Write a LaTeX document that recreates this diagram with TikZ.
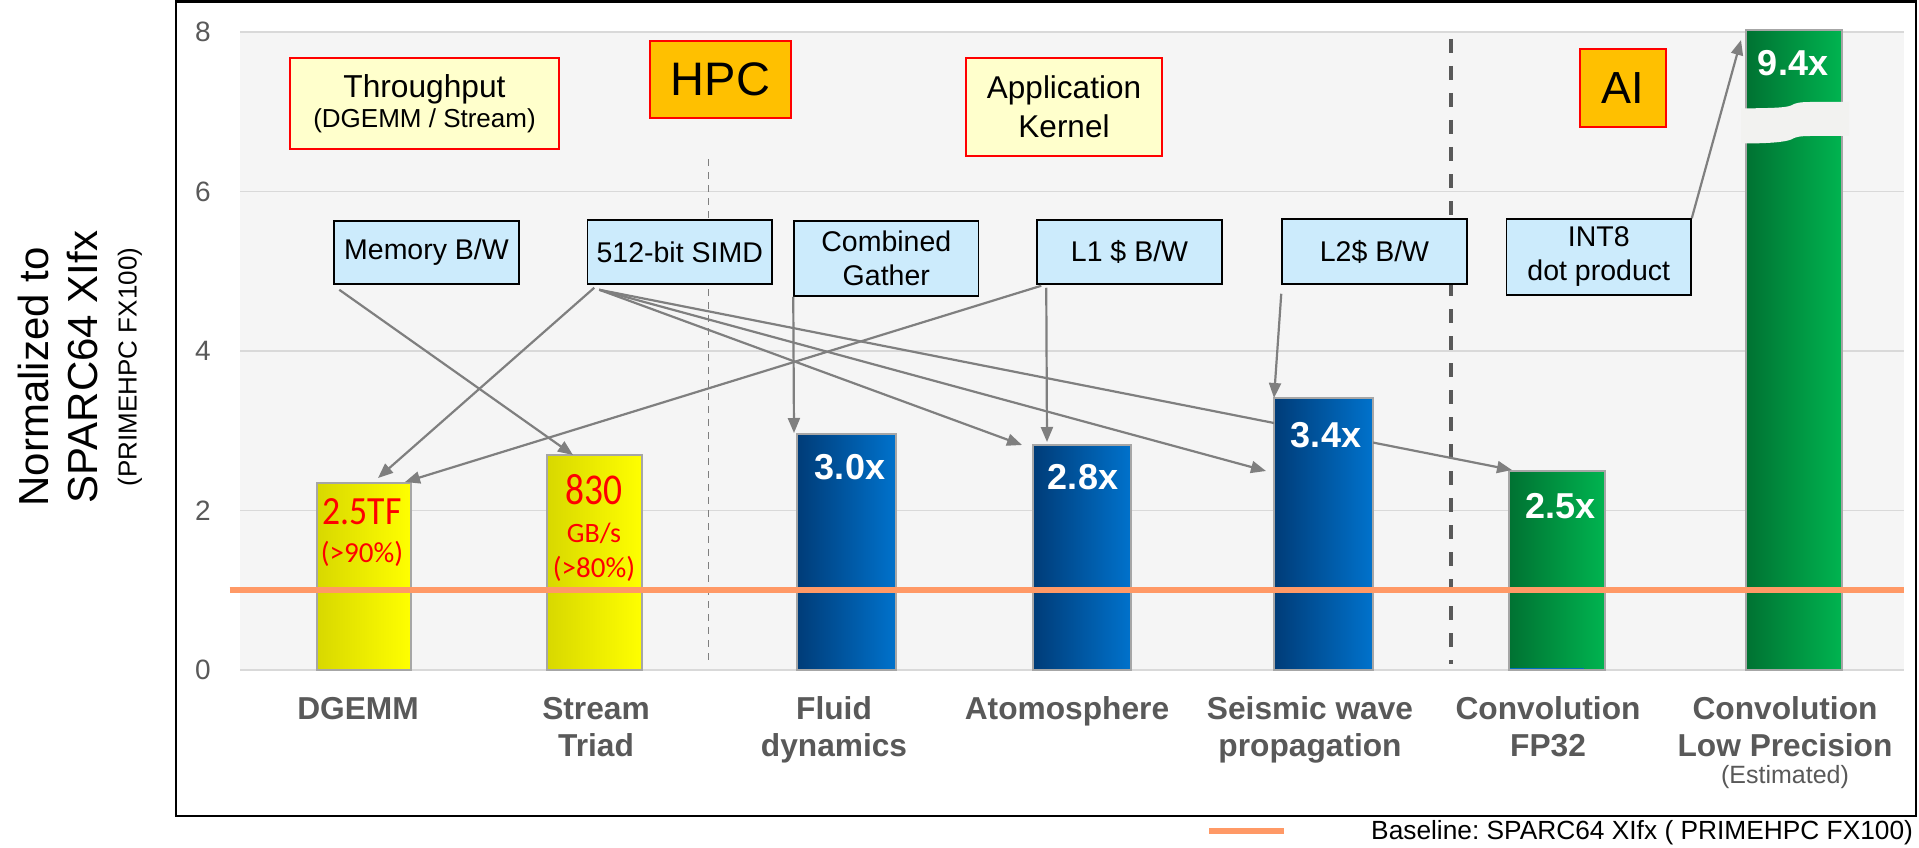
\documentclass[tikz,border=0pt]{standalone}
\usepackage{fontspec}
\setmainfont{Liberation Sans}
\newfontfamily\carl{Carlito}
\usepackage{graphicx}
\usetikzlibrary{arrows.meta}
\definecolor{gridc}{HTML}{D9D9D9}
\definecolor{plotbg}{HTML}{F5F5F5}
\definecolor{axisgray}{HTML}{595959}
\definecolor{basecol}{HTML}{FF9966}
\definecolor{arrowc}{HTML}{7F7F7F}
\definecolor{boxblue}{HTML}{CCEBFC}
\definecolor{boxyel}{HTML}{FFFFCC}
\definecolor{boxgold}{HTML}{FFC000}
\definecolor{barline}{HTML}{A6A6A6}
\definecolor{yA}{HTML}{D8D800}
\definecolor{yB}{HTML}{F0F000}
\definecolor{yC}{HTML}{FFFF00}
\definecolor{bA}{HTML}{003C78}
\definecolor{bB}{HTML}{00569F}
\definecolor{bC}{HTML}{0072CC}
\definecolor{gA}{HTML}{007232}
\definecolor{gB}{HTML}{00923F}
\definecolor{gC}{HTML}{00B450}
\definecolor{breakc}{HTML}{F2F2F0}
\definecolor{thinblue}{HTML}{0070C0}
\newcommand{\fsz}[2]{\fontsize{#1}{#2}\selectfont}
\frenchspacing
\begin{document}
\begin{tikzpicture}[x=1pt,y=-1pt,
  lbl/.style={draw=black, line width=1.5pt, fill=boxblue, inner sep=0pt, align=center, font=\fsz{28.5}{34}},
  note/.style={draw=red, line width=1.3pt, fill=boxyel, inner sep=0pt, align=center},
  tagbox/.style={draw=red, line width=1.3pt, fill=boxgold, inner sep=0pt},
  bar/.style={draw=barline, line width=1.2pt, inner sep=0pt, outer sep=0pt, anchor=south west},
  ybar/.style={bar, left color=yA, middle color=yB, right color=yC},
  bbar/.style={bar, left color=bA, middle color=bB, right color=bC},
  gbar/.style={bar, left color=gA, middle color=gB, right color=gC},
  arr/.style={draw=arrowc, line width=2.2pt, -{Triangle[length=15pt,width=12pt]}},
  val/.style={text=white, font=\bfseries\fsz{36}{40}},
  cat/.style={text=axisgray, font=\bfseries\fsz{31.7}{37}, align=center, anchor=base},
  ticklbl/.style={text=axisgray, font=\fsz{28}{30}},
  redtxt/.style={text=red, font=\carl\fsz{29}{32}}
]
\useasboundingbox (0,0) rectangle (1919,848);
\fill[white] (0,0) rectangle (1919,848);

% plot area
\fill[plotbg] (240,32) rectangle (1904,670);
\foreach \yy in {32,191.5,351,510.5,670}
  \draw[gridc, line width=1.5pt] (240,\yy) -- (1904,\yy);

% tick labels
\node[ticklbl] (t8) at (203,32) {8};
\node[ticklbl] (t6) at (203,191.5) {6};
\node[ticklbl] (t4) at (203,351) {4};
\node[ticklbl] (t2) at (203,510.5) {2};
\node[ticklbl] (t0) at (203,670) {0};

% separators
\draw[arrowc, line width=1pt, dash pattern=on 7pt off 6pt] (708,159) -- (708,663);
\draw[axisgray, line width=4pt, dash pattern=on 14pt off 13pt] (1451,39) -- (1451,664);

% annotation boxes
\node[lbl, minimum width=185pt, minimum height=63pt] (mem) at (426.5,252.5) {Memory B/W};
\node[lbl, minimum width=184.5pt, minimum height=64pt] (simd) at (679.75,252) {512-bit SIMD};
\node[lbl, minimum width=184.6pt, minimum height=75pt] (comb) at (886.3,258.5) {Combined\\Gather};
\node[lbl, minimum width=185pt, minimum height=64pt] (lone) at (1129.5,252) {L1 \$ B/W};
\node[lbl, minimum width=185pt, minimum height=65pt] (ltwo) at (1374.5,251.5) {L2\$ B/W};
\node[lbl, minimum width=184.5pt, minimum height=76pt] (int) at (1598.75,257) {INT8\\dot product};

% bars (as nodes)
\node[ybar, minimum width=94pt, minimum height=187pt] (dgemm) at (317,670) {};
\node[ybar, minimum width=95pt, minimum height=215pt] (stream) at (547,670) {};
\node[bbar, minimum width=99pt, minimum height=236pt] (fluid) at (797,670) {};
\node[bbar, minimum width=98pt, minimum height=225pt] (atmos) at (1033,670) {};
\node[bbar, minimum width=99pt, minimum height=272pt] (seis) at (1274,670) {};
\node[gbar, minimum width=96pt, minimum height=199pt] (fpt) at (1509,670) {};
\node[gbar, minimum width=96pt, minimum height=640pt] (lowp) at (1746,670) {};

% arrows
\draw[arr] ([shift={(6,5)}]mem.south west) -- ([shift={(26,0)}]stream.north west);
\draw[arr] ([shift={(7.5,3)}]simd.south west) -- ([shift={(61,-5)}]dgemm.north west);
\draw[arr] ([shift={(5,1)}]lone.south west) -- ([shift={(88,-1)}]dgemm.north west);
\draw[arr] ([shift={(10,3)}]lone.south west) -- ([shift={(14,-3)}]atmos.north west);
\draw[arr] (comb.south west) -- ([shift={(-3,-1)}]fluid.north west);
\draw[arr] ([shift={(12.5,5)}]simd.south west) -- ([shift={(-11,0)}]atmos.north west);
\draw[arr] ([shift={(12.5,5)}]simd.south west) -- ([shift={(-8,73)}]seis.north west);
\draw[arr] ([shift={(0,9)}]ltwo.south west) -- (seis.north west);
\draw[arr] (int.north east) -- ([shift={(-5,10)}]lowp.north west);

% long arrow passing behind the seismic bar
\begin{scope}
\clip (240,0) rectangle (1274,848) (1373,0) rectangle (1919,848);
\draw[arr] ([shift={(12.5,5)}]simd.south west) -- ([shift={(3,-1)}]fpt.north west);
\end{scope}

% break on the low precision bar
\fill[breakc] (1741,108.5) .. controls (1770,108) and (1785,108) .. (1791,105.5)
  .. controls (1795,103) and (1800,102) .. (1810,102) -- (1849,102) -- (1849,136)
  -- (1810,136) .. controls (1800,136) and (1795,137) .. (1791,139.5)
  .. controls (1785,142) and (1770,143.5) .. (1741,143.5) -- cycle;

\draw[thinblue, line width=1.5pt] (1510,668.5) -- (1584,668.5);

% values inside bars
\node[redtxt] (v1a) at (362,512) {\fsz{40}{44}\scalebox{0.89}[1]{2.5TF}};
\node[redtxt] (v1b) at (362,554) {(>90\%)};
\node[redtxt] (v2a) at (594,490) {\fsz{44}{48}\scalebox{0.85}[1]{830}};
\node[redtxt] (v2b) at (594,533) {\fsz{28}{30}GB/s};
\node[redtxt] (v2c) at (594,569) {(>80\%)};
\node[val] (v3) at (850,467) {3.0x};
\node[val] (v4) at (1083,477) {2.8x};
\node[val] (v5) at (1326,435) {3.4x};
\node[val] (v6) at (1560.5,506) {2.5x};
\node[val] (v7) at (1793,63) {9.4x};

% baseline
\draw[basecol, line width=6pt] (229.5,589.5) -- (1904,589.5);

% title boxes
\node[note, minimum width=269pt, minimum height=91pt] (thr) at (424.5,103.5)
  {\fsz{31.7}{35}Throughput\\[3pt]\fsz{26}{30}(DGEMM / Stream)};
\node[tagbox, minimum width=141pt, minimum height=77pt, font=\fsz{47}{50}] (hpc) at (720.5,79.5) {HPC};
\node[note, minimum width=196pt, minimum height=98pt, font=\fsz{31.5}{39}] (app) at (1064,107) {Application\\Kernel};
\node[tagbox, minimum width=86pt, minimum height=78pt, font=\fsz{45}{50}] (ai) at (1623,88) {AI};

% category labels (anchor=base is the last line's baseline)
\node[cat] (c1) at (358,719.4) {DGEMM};
\node[cat] (c2) at (596,756.4) {Stream\\Triad};
\node[cat] (c3) at (834,756.4) {Fluid\\dynamics};
\node[cat] (c4) at (1067,719.4) {Atomosphere};
\node[cat] (c5) at (1310,756.4) {Seismic wave\\propagation};
\node[cat] (c6) at (1548,756.4) {Convolution\\FP32};
\node[cat] (c7) at (1785,756.4) {Convolution\\Low Precision};
\node[text=axisgray, font=\fsz{25}{28}] (c7e) at (1785,777) {(Estimated)};

% y axis title
\node[rotate=90, font=\fsz{42}{46}] (yt1) at (33,377) {Normalized to};
\node[rotate=90, font=\fsz{42}{46}] (yt2) at (83,367) {SPARC64 XIfx};
\node[rotate=90, font=\fsz{26}{30}] (yt3) at (130,367) {(PRIMEHPC FX100)};

% frame
\draw[black, line width=2.5pt] (176,1.5) rectangle (1916,816);

% legend
\draw[basecol, line width=6pt] (1209,831) coordinate (lg1) -- (1284,831) coordinate (lg2);
\node[anchor=west, font=\fsz{26.3}{28}, inner sep=0pt] (lgt) at (1371,833) {Baseline: SPARC64 XIfx ( PRIMEHPC FX100)};
\end{tikzpicture}
\end{document}
